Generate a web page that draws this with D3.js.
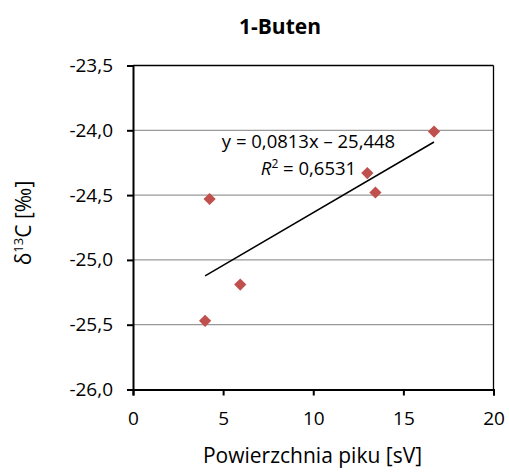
<!DOCTYPE html>
<html><head><meta charset="utf-8">
<script src="https://cdn.jsdelivr.net/npm/d3@7"></script>
<style>body{margin:0;background:#fff}svg{display:block;font-family:"Open Sans",sans-serif}</style>
</head><body>
<svg id="c" width="509" height="473"></svg>
<script>
const xValues = [4.0, 5.95, 4.25, 13.0, 13.45, 16.7];
const yValues = [-25.47, -25.19, -24.53, -24.33, -24.48, -24.01];
const xTicks = [0, 5, 10, 15, 20];
const yTicks = [-26.0, -25.5, -25.0, -24.5, -24.0, -23.5];
const trendSlope = 0.0813, trendIntercept = -25.448;
const eqLabel = "y = 0,0813x \u2013 25,448";
const r2Label = " = 0,6531";

const FF = "'Open Sans', sans-serif";
const svg = d3.select("#c");
const L = 133, R = 493.5, T = 65.5, B = 389.5;
const x = d3.scaleLinear().domain([0, 20]).range([L, R]);
const y = d3.scaleLinear().domain([-26, -23.5]).range([B, T]);
const fmt = d => d3.format(".1f")(d).replace(".", ",").replace("\u2212", "-");

// gridlines
svg.append("g").selectAll("line").data(yTicks.filter(d => d > -26 && d < -23.5)).join("line")
  .attr("x1", L).attr("x2", R).attr("y1", d => y(d)).attr("y2", d => y(d))
  .attr("stroke", "#999").attr("stroke-width", 1.3);

// border top/right
svg.append("line").attr("x1", L).attr("x2", R).attr("y1", T).attr("y2", T).attr("stroke", "#000").attr("stroke-width", 1.3);
svg.append("line").attr("x1", R).attr("x2", R).attr("y1", T).attr("y2", B).attr("stroke", "#000").attr("stroke-width", 1.3);

const yAxis = svg.append("g").attr("transform", `translate(${L},0)`)
  .call(d3.axisLeft(y).tickValues(yTicks).tickFormat(fmt).tickSize(6).tickPadding(14));
const xAxis = svg.append("g").attr("transform", `translate(0,${B})`)
  .call(d3.axisBottom(x).tickValues(xTicks).tickFormat(d3.format("d")).tickSize(6).tickPadding(16));
[yAxis, xAxis].forEach(g => {
  g.selectAll("path,line").attr("stroke", "#000").attr("stroke-width", 2);
  g.selectAll("text").attr("font-size", 19).attr("fill", "#000").attr("font-family", FF);
});

// trendline
const x0 = d3.min(xValues), x1 = d3.max(xValues);
svg.append("line").attr("x1", x(x0)).attr("y1", y(trendSlope * x0 + trendIntercept))
  .attr("x2", x(x1)).attr("y2", y(trendSlope * x1 + trendIntercept))
  .attr("stroke", "#000").attr("stroke-width", 1.5);

// points
const sym = d3.symbol().type(d3.symbolDiamond2).size(95);
svg.append("g").selectAll("path").data(xValues.map((v, i) => [v, yValues[i]])).join("path")
  .attr("d", sym).attr("transform", d => `translate(${x(d[0])},${y(d[1])})`)
  .attr("fill", "#C0504D");

// equation
svg.append("text").attr("x", 308.5).attr("y", 148).attr("text-anchor", "middle").attr("font-size", 18.5).text(eqLabel);
const t2 = svg.append("text").attr("x", 308.5).attr("y", 175).attr("text-anchor", "middle").attr("font-size", 18.5);
t2.append("tspan").attr("font-style", "italic").text("R");
t2.append("tspan").attr("font-size", 12).attr("dy", -7).text("2");
t2.append("tspan").attr("dy", 7).text(r2Label);

// title
svg.append("text").attr("x", 280).attr("y", 34).attr("text-anchor", "middle").attr("font-size", 21).attr("font-weight", "bold").text("1-Buten");
// axis titles
svg.append("text").attr("x", 312.5).attr("y", 463).attr("text-anchor", "middle").attr("font-size", 21).text("Powierzchnia piku [sV]");
const yt = svg.append("text").attr("transform", "translate(31,223) rotate(-90)").attr("text-anchor", "middle").attr("font-size", 21);
yt.append("tspan").text("\u03B4");
yt.append("tspan").attr("font-size", 13).attr("dy", -8).text("13");
yt.append("tspan").attr("dy", 8).text("C [\u2030]");
</script>
</body></html>
